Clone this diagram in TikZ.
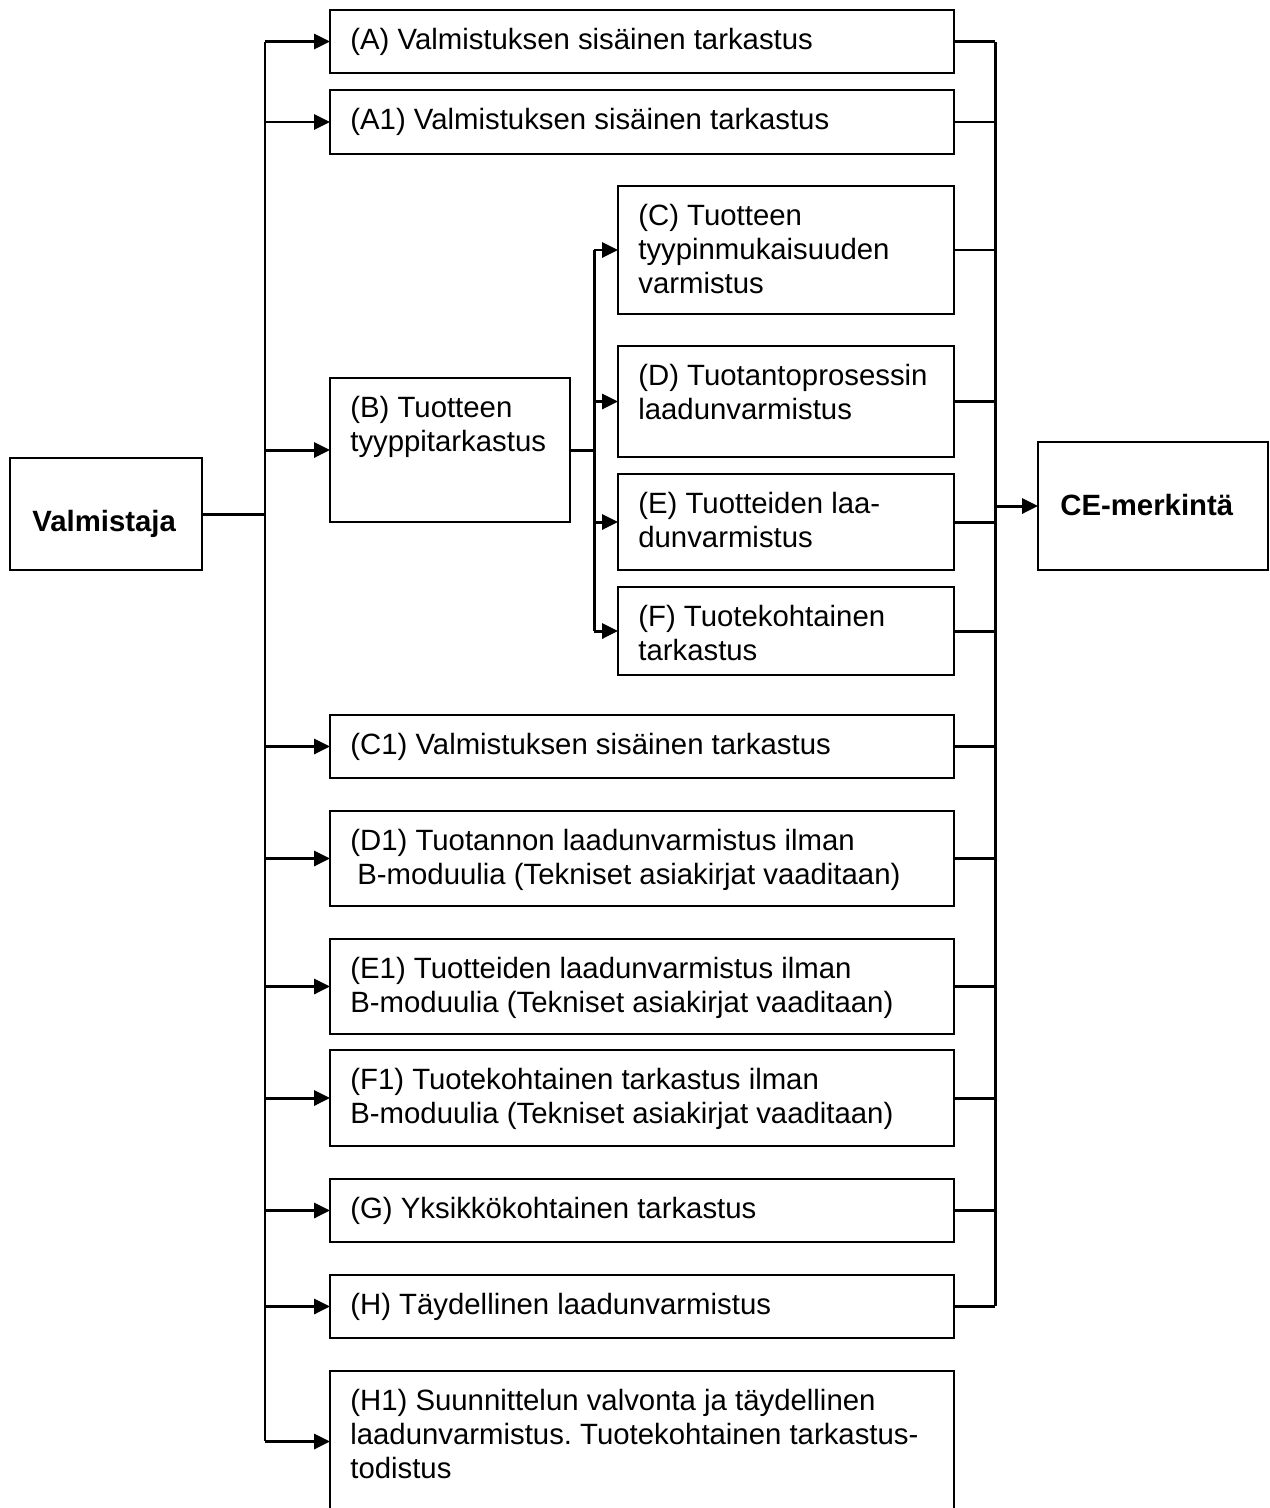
\documentclass[tikz,border=0pt]{standalone}
\usepackage{fontspec}
\setmainfont{Liberation Sans}
\usetikzlibrary{arrows.meta}
\frenchspacing
\newcommand\bx[6]{%
  \node[box, minimum width={(#4-#2)*0.02cm}, minimum height={(#5-#3)*0.02cm}] (#1) at ({(#2+#4)/2},{(#3+#5)/2}) {};
  \node[lbl] (#1t) at ([shift={(20,18)}]#1.north west) {#6};}
\begin{document}
\begin{tikzpicture}[x=0.02cm,y=-0.02cm,
  box/.style={draw, line width=1.1pt, inner sep=0pt, outer sep=0pt},
  lbl/.style={anchor=north west, inner sep=0pt, align=left, font=\fontsize{16.7}{19.35}\selectfont},
  blbl/.style={anchor=base west, inner sep=0pt, font=\fontsize{16.7}{19.35}\selectfont\bfseries},
  conn/.style={line width=1.7pt},
  arr/.style={conn, -{Triangle[length=9pt,width=8.5pt]}}]
\useasboundingbox (0,0) rectangle (1269,1508);
% boxes
\node[box, minimum width={192*0.02cm}, minimum height={112*0.02cm}] (V) at (106,514) {};
\node[blbl] (Vt) at (32,531) {Valmistaja};
\node[box, minimum width={230*0.02cm}, minimum height={128*0.02cm}] (CE) at (1153,506) {};
\node[blbl] (CEt) at (1060,515) {CE-merkintä};
\bx{A}{330}{10}{954}{73}{(A) Valmistuksen sisäinen tarkastus}
\bx{A1}{330}{90}{954}{154}{(A1) Valmistuksen sisäinen tarkastus}
\bx{C}{618}{186}{954}{314}{(C) Tuotteen\\tyypinmukaisuuden\\varmistus}
\bx{D}{618}{346}{954}{457}{(D) Tuotantoprosessin\\laadunvarmistus}
\bx{B}{330}{378}{570}{522}{(B) Tuotteen\\tyyppitarkastus}
\bx{E}{618}{474}{954}{570}{(E) Tuotteiden laa-\\dunvarmistus}
\bx{F}{618}{587}{954}{675}{(F) Tuotekohtainen\\tarkastus}
\bx{C1}{330}{715}{954}{778}{(C1) Valmistuksen sisäinen tarkastus}
\bx{D1}{330}{811}{954}{906}{(D1) Tuotannon laadunvarmistus ilman\\\hspace*{4pt}B-moduulia (Tekniset asiakirjat vaaditaan)}
\bx{E1}{330}{939}{954}{1034}{(E1) Tuotteiden laadunvarmistus ilman\\B-moduulia (Tekniset asiakirjat vaaditaan)}
\bx{F1}{330}{1050}{954}{1146}{(F1) Tuotekohtainen tarkastus ilman\\B-moduulia (Tekniset asiakirjat vaaditaan)}
\bx{G}{330}{1179}{954}{1242}{(G) Yksikkökohtainen tarkastus}
\bx{H}{330}{1275}{954}{1338}{(H) Täydellinen laadunvarmistus}
\bx{H1}{330}{1371}{954}{1512}{(H1) Suunnittelun valvonta ja täydellinen\\laadunvarmistus. Tuotekohtainen tarkastus-\\todistus}
% left bus
\coordinate (lt) at (265,42);
\coordinate (lb) at (265,1441);
\draw[conn] (lt) -- (lb);
\draw[conn] (V.east) -- (V.east -| lt);
\foreach \n in {A,A1,B,C1,D1,E1,F1,G,H,H1}
  \draw[arr] (\n.west -| lt) -- (\n.west);
% sub bus
\coordinate (st) at (594,250);
\coordinate (sb) at (594,631);
\draw[conn] (st) -- (sb);
\draw[conn] (B.east) -- (B.east -| st);
\foreach \n in {C,D,E,F}
  \draw[arr] (\n.west -| st) -- (\n.west);
% right bus
\coordinate (rt) at (995,42);
\coordinate (rb) at (995,1306);
\draw[conn] (rt) -- (rb);
\foreach \n in {A,A1,C,D,E,F,C1,D1,E1,F1,G,H}
  \draw[conn] (\n.east) -- (\n.east -| rt);
\draw[arr] (CE.west -| rt) -- (CE.west);
\end{tikzpicture}
\end{document}
